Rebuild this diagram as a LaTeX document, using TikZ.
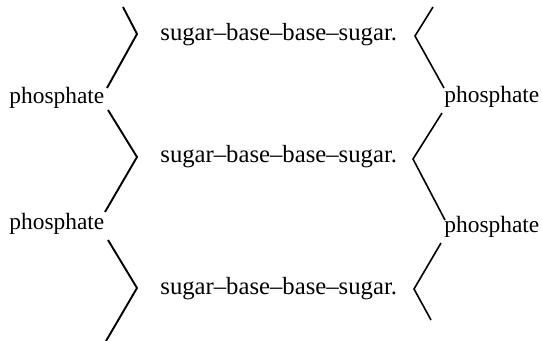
\documentclass[tikz,border=0pt]{standalone}
\usepackage{fontspec}
\setmainfont{Liberation Serif}
\begin{document}
\begin{tikzpicture}[x=0.5pt,y=-0.5pt,
  phos/.style={anchor=base west,inner sep=0pt,font=\fontsize{11.7}{14}\selectfont},
  sugar/.style={anchor=base west,inner sep=0pt,font=\fontsize{12.35}{14}\selectfont},
  chainL/.style={line width=0.95pt,line join=miter},
  chainR/.style={line width=0.8pt,line join=miter}]
\useasboundingbox (0,0) rectangle (542,341);
% texts
\node[sugar] (s1) at (160,41) {sugar--base--base--sugar.};
\node[sugar] (s2) at (160,163) {sugar--base--base--sugar.};
\node[sugar] (s3) at (160,295) {sugar--base--base--sugar.};
\node[phos] (pl1) at (9,104) {phosphate};
\node[phos] (pl2) at (9,230) {phosphate};
\node[phos] (pr1) at (444,103) {phosphate};
\node[phos] (pr2) at (444,233) {phosphate};
% left chain points
\coordinate (la0) at (123,7);
\coordinate (lv1) at (137,34);
\coordinate (la1) at (107,88);
\coordinate (lb1) at (108,110);
\coordinate (lv2) at (137,157);
\coordinate (la2) at (105,212);
\coordinate (lb2) at (108,240);
\coordinate (lv3) at (137,288);
\coordinate (la3) at (106,341);
% right chain points
\coordinate (ra0) at (433,7);
\coordinate (rv1) at (415,36);
\coordinate (ra1) at (444,88);
\coordinate (rb1) at (442,113);
\coordinate (rv2) at (413,159);
\coordinate (ra2) at (445,220);
\coordinate (rb2) at (441,243);
\coordinate (rv3) at (414,289);
\coordinate (ra3) at (431,320);
\draw[chainL] (la0) -- (lv1) -- (la1);
\draw[chainL] (lb1) -- (lv2) -- (la2);
\draw[chainL] (lb2) -- (lv3) -- (la3);
\draw[chainR] (ra0) -- (rv1) -- (ra1);
\draw[chainR] (rb1) -- (rv2) -- (ra2);
\draw[chainR] (rb2) -- (rv3) -- (ra3);
\end{tikzpicture}
\end{document}
